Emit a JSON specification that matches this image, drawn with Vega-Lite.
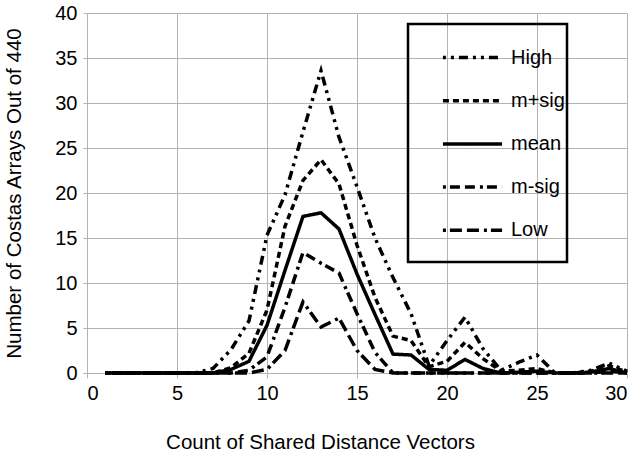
{
  "$schema": "https://vega.github.io/schema/vega-lite/v6.json",
  "width": 540,
  "height": 360,
  "autosize": "none",
  "padding": {"left": 87, "top": 13, "right": 12, "bottom": 85},
  "background": "white",
  "config": {
    "font": "Liberation Sans",
    "view": {"stroke": null},
    "axis": {
      "labelFont": "Liberation Sans",
      "titleFont": "Liberation Sans",
      "labelFontSize": 20,
      "titleFontSize": 20.5,
      "titleFontWeight": "normal",
      "labelColor": "#000000",
      "titleColor": "#000000",
      "gridColor": "#b3b3b3",
      "gridWidth": 1,
      "tickColor": "#b3b3b3",
      "domain": false
    }
  },
  "data": {
    "values": [
      {"x": 1, "High": 0, "m+sig": 0, "mean": 0, "m-sig": 0, "Low": 0},
      {"x": 2, "High": 0, "m+sig": 0, "mean": 0, "m-sig": 0, "Low": 0},
      {"x": 3, "High": 0, "m+sig": 0, "mean": 0, "m-sig": 0, "Low": 0},
      {"x": 4, "High": 0, "m+sig": 0, "mean": 0, "m-sig": 0, "Low": 0},
      {"x": 5, "High": 0, "m+sig": 0, "mean": 0, "m-sig": 0, "Low": 0},
      {"x": 6, "High": 0, "m+sig": 0, "mean": 0, "m-sig": 0, "Low": 0},
      {"x": 7, "High": 0.5, "m+sig": 0, "mean": 0, "m-sig": 0, "Low": 0},
      {"x": 8, "High": 2.6, "m+sig": 0.6, "mean": 0.4, "m-sig": 0, "Low": 0},
      {"x": 9, "High": 5.8, "m+sig": 2.2, "mean": 1.3, "m-sig": 0.3, "Low": 0},
      {"x": 10, "High": 15.3, "m+sig": 7.0, "mean": 5.3, "m-sig": 1.8, "Low": 0.4},
      {"x": 11, "High": 19.8, "m+sig": 16.3, "mean": 11.4, "m-sig": 7.3, "Low": 2.5},
      {"x": 12, "High": 26.8, "m+sig": 21.4, "mean": 17.4, "m-sig": 13.4, "Low": 7.9},
      {"x": 13, "High": 33.6, "m+sig": 23.7, "mean": 17.8, "m-sig": 12.2, "Low": 5.1},
      {"x": 14, "High": 26.2, "m+sig": 21.0, "mean": 16.0, "m-sig": 11.1, "Low": 6.1},
      {"x": 15, "High": 20.7, "m+sig": 14.2, "mean": 11.0, "m-sig": 6.6, "Low": 2.5},
      {"x": 16, "High": 15.0, "m+sig": 8.4, "mean": 6.5, "m-sig": 2.3, "Low": 0.4},
      {"x": 17, "High": 10.6, "m+sig": 4.1, "mean": 2.1, "m-sig": 0, "Low": 0},
      {"x": 18, "High": 6.6, "m+sig": 3.6, "mean": 2.0, "m-sig": 0, "Low": 0},
      {"x": 19, "High": 0.8, "m+sig": 0.7, "mean": 0.4, "m-sig": 0, "Low": 0},
      {"x": 20, "High": 3.6, "m+sig": 1.3, "mean": 0.3, "m-sig": 0, "Low": 0},
      {"x": 21, "High": 6.2, "m+sig": 3.4, "mean": 1.5, "m-sig": 0, "Low": 0},
      {"x": 22, "High": 2.7, "m+sig": 1.6, "mean": 0.5, "m-sig": 0, "Low": 0},
      {"x": 23, "High": 0.3, "m+sig": 0.2, "mean": 0, "m-sig": 0, "Low": 0},
      {"x": 24, "High": 1.2, "m+sig": 0.3, "mean": 0.1, "m-sig": 0, "Low": 0},
      {"x": 25, "High": 2.0, "m+sig": 0.5, "mean": 0.2, "m-sig": 0, "Low": 0},
      {"x": 26, "High": 0, "m+sig": 0, "mean": 0, "m-sig": 0, "Low": 0},
      {"x": 27, "High": 0, "m+sig": 0, "mean": 0, "m-sig": 0, "Low": 0},
      {"x": 28, "High": 0.3, "m+sig": 0.2, "mean": 0.1, "m-sig": 0, "Low": 0},
      {"x": 29, "High": 1.1, "m+sig": 0.8, "mean": 0.5, "m-sig": 0.2, "Low": 0},
      {"x": 30, "High": 0.2, "m+sig": 0.1, "mean": 0, "m-sig": 0, "Low": 0}
    ]
  },
  "transform": [
    {"fold": ["High", "m+sig", "mean", "m-sig", "Low"], "as": ["series", "value"]}
  ],
  "mark": {"type": "line", "strokeWidth": 3.5, "color": "#000000", "strokeCap": "butt"},
  "encoding": {
    "x": {
      "field": "x",
      "type": "quantitative",
      "scale": {"domain": [0, 30], "nice": false, "zero": false},
      "axis": {
        "values": [0, 5, 10, 15, 20, 25, 30],
        "title": "Count of Shared Distance Vectors",
        "tickSize": 5,
        "labelPadding": 5,
        "titlePadding": 29,
        "titleX": 233
      }
    },
    "y": {
      "field": "value",
      "type": "quantitative",
      "scale": {"domain": [0, 40], "nice": false},
      "axis": {
        "values": [0, 5, 10, 15, 20, 25, 30, 35, 40],
        "title": "Number of Costas Arrays Out of 440",
        "tickSize": 4,
        "labelPadding": 6,
        "titlePadding": 30
      }
    },
    "strokeDash": {
      "field": "series",
      "type": "nominal",
      "scale": {
        "domain": ["High", "m+sig", "mean", "m-sig", "Low"],
        "range": [[3, 5, 3, 5, 9, 5], [6, 4], [1, 0], [3, 4, 10, 5, 10, 5], [3, 4, 12, 5, 12, 5]]
      },
      "legend": {
        "title": "\u00a0",
        "titleOrient": "bottom",
        "titleFontSize": 12,
        "titlePadding": 9,
        "orient": "none",
        "legendX": 321,
        "legendY": 11,
        "strokeColor": "#000000",
        "padding": 2,
        "symbolType": "stroke",
        "symbolSize": 3500,
        "symbolStrokeWidth": 3.5,
        "symbolStrokeColor": "#000000",
        "symbolOffset": 31,
        "labelFont": "Liberation Sans",
        "labelFontSize": 20,
        "labelColor": "#000000",
        "labelOffset": 7,
        "rowPadding": 1.2,
        "labelExpr": "datum.label + '\u00a0\u00a0\u00a0\u00a0\u00a0\u00a0\u00a0'",
        "encode": {"legend": {"update": {"strokeWidth": {"value": 2.5}}}}
      }
    }
  }
}
